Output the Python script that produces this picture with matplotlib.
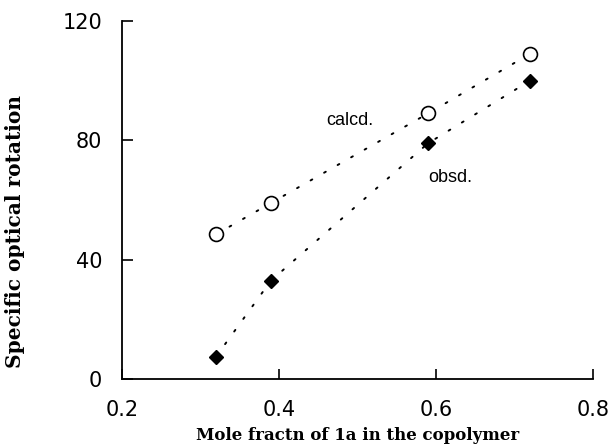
import matplotlib
matplotlib.use("Agg")
import matplotlib.pyplot as plt

# Mole fraction of 1a in the copolymer
mole_fraction = [0.32, 0.39, 0.59, 0.72]
# Specific optical rotation
calcd = [48.5, 59.0, 89.0, 109.0]
obsd = [7.5, 33.0, 79.0, 100.0]

x_ticks = [0.2, 0.4, 0.6, 0.8]
y_ticks = [0, 40, 80, 120]

fig = plt.figure(figsize=(6.15, 4.46), dpi=100)
ax = fig.add_axes([0.198, 0.150, 0.766, 0.803])

dot_style = (0, (1, 7))
ax.plot(mole_fraction, calcd, color="black", lw=1.4, linestyle=dot_style,
        dash_capstyle="round", zorder=1)
ax.plot(mole_fraction, obsd, color="black", lw=1.4, linestyle=dot_style,
        dash_capstyle="round", zorder=1)
ax.plot(mole_fraction, calcd, linestyle="none", marker="o", ms=10,
        mfc="white", mec="black", mew=1.2, zorder=3)
ax.plot(mole_fraction, obsd, linestyle="none", marker="D", ms=7.5,
        mfc="black", mec="black", zorder=3)

ax.text(0.461, 86.8, "calcd.", fontsize=13, family="Liberation Sans",
        ha="left", va="center")
ax.text(0.590, 67.7, "obsd.", fontsize=13, family="Liberation Sans",
        ha="left", va="center")

ax.set_xlim(0.2, 0.8)
ax.set_ylim(0, 120)
ax.set_xticks(x_ticks)
ax.set_yticks(y_ticks)
ax.set_xticklabels([f"{v:.1f}" for v in x_ticks])
ax.set_yticklabels([str(v) for v in y_ticks])

for side in ("top", "right"):
    ax.spines[side].set_visible(False)
for side in ("left", "bottom"):
    ax.spines[side].set_linewidth(1.3)

ax.tick_params(axis="both", direction="in", width=1.2, labelsize=15)
ax.tick_params(axis="x", length=7, pad=15)
ax.tick_params(axis="y", length=8, pad=14)
for lbl in ax.get_xticklabels() + ax.get_yticklabels():
    lbl.set_family("DejaVu Sans")

ax.set_xlabel("Mole fractn of 1a in the copolymer", fontsize=12,
              family="DejaVu Serif", fontweight="bold")
ax.xaxis.set_label_coords(0.501, -0.135)
ax.set_ylabel("Specific optical rotation", fontsize=14.5,
              family="DejaVu Serif", fontweight="bold")
ax.yaxis.set_label_coords(-0.205, 0.413)

fig.savefig("out.png", dpi=100)
